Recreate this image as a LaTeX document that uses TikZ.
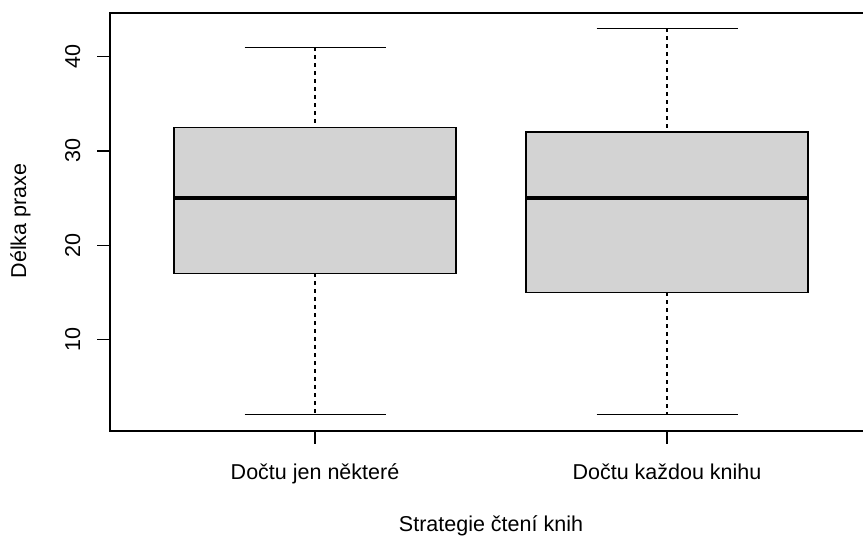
\documentclass[tikz,border=0pt]{standalone}
\usepackage{fontspec}
\setmainfont{Liberation Sans}
\definecolor{boxgray}{HTML}{D3D3D3}
\begin{document}
\begin{tikzpicture}[x=1pt,y=-1pt,
  lbl/.style={inner sep=0pt,anchor=base,font=\fontsize{21.5}{26}\selectfont},
  frameline/.style={line width=1.3pt,black},
  boxline/.style={line width=1.2pt,black,fill=boxgray},
  medline/.style={line width=4pt,black},
  whisk/.style={line width=1.2pt,black,dash pattern=on 4pt off 4pt},
  capline/.style={line width=1.2pt,black},
  tickline/.style={line width=1.2pt,black}]
\useasboundingbox (0,0) rectangle (863,536);
\clip (0,0) rectangle (863,536);
% y(v) = 433.5 - 9.42 v
% box 1
\coordinate (w1t) at (315,47.28);
\coordinate (w1b) at (315,414.66);
\coordinate (q1u) at (315,127.35);
\coordinate (q1l) at (315,273.36);
\draw[whisk] (w1t) -- (q1u);
\draw[whisk] (q1l) -- (w1b);
\draw[boxline] (174,127.35) rectangle (456,273.36);
\draw[medline] (174,198) -- (456,198);
\draw[capline] (244.5,47.28) -- (385.5,47.28);
\draw[capline] (244.5,414.66) -- (385.5,414.66);
% box 2
\coordinate (w2t) at (667,28.44);
\coordinate (w2b) at (667,414.66);
\coordinate (q2u) at (667,132.06);
\coordinate (q2l) at (667,292.2);
\draw[whisk] (w2t) -- (q2u);
\draw[whisk] (q2l) -- (w2b);
\draw[boxline] (526,132.06) rectangle (808,292.2);
\draw[medline] (526,198) -- (808,198);
\draw[capline] (596.5,28.44) -- (737.5,28.44);
\draw[capline] (596.5,414.66) -- (737.5,414.66);
% frame
\draw[frameline] (110,13) rectangle (871.5,431);
% y ticks
\foreach \v/\yy in {10/339.3,20/245.1,30/150.9,40/56.7}{
  \draw[tickline] (97,\yy) -- (110,\yy);
  \node[lbl,rotate=90] (yt\v) at (80,\yy) {\v};
}
% x ticks
\draw[tickline] (315,431) -- (315,444);
\draw[tickline] (667,431) -- (667,444);
\node[lbl] (xt1) at (315,479.3) {Dočtu jen některé};
\node[lbl] (xt2) at (667,479.3) {Dočtu každou knihu};
% axis titles
\node[lbl] (xlab) at (491,531.5) {Strategie čtení knih};
\node[lbl,rotate=90] (ylab) at (26,221) {Délka praxe};
\end{tikzpicture}
\end{document}
